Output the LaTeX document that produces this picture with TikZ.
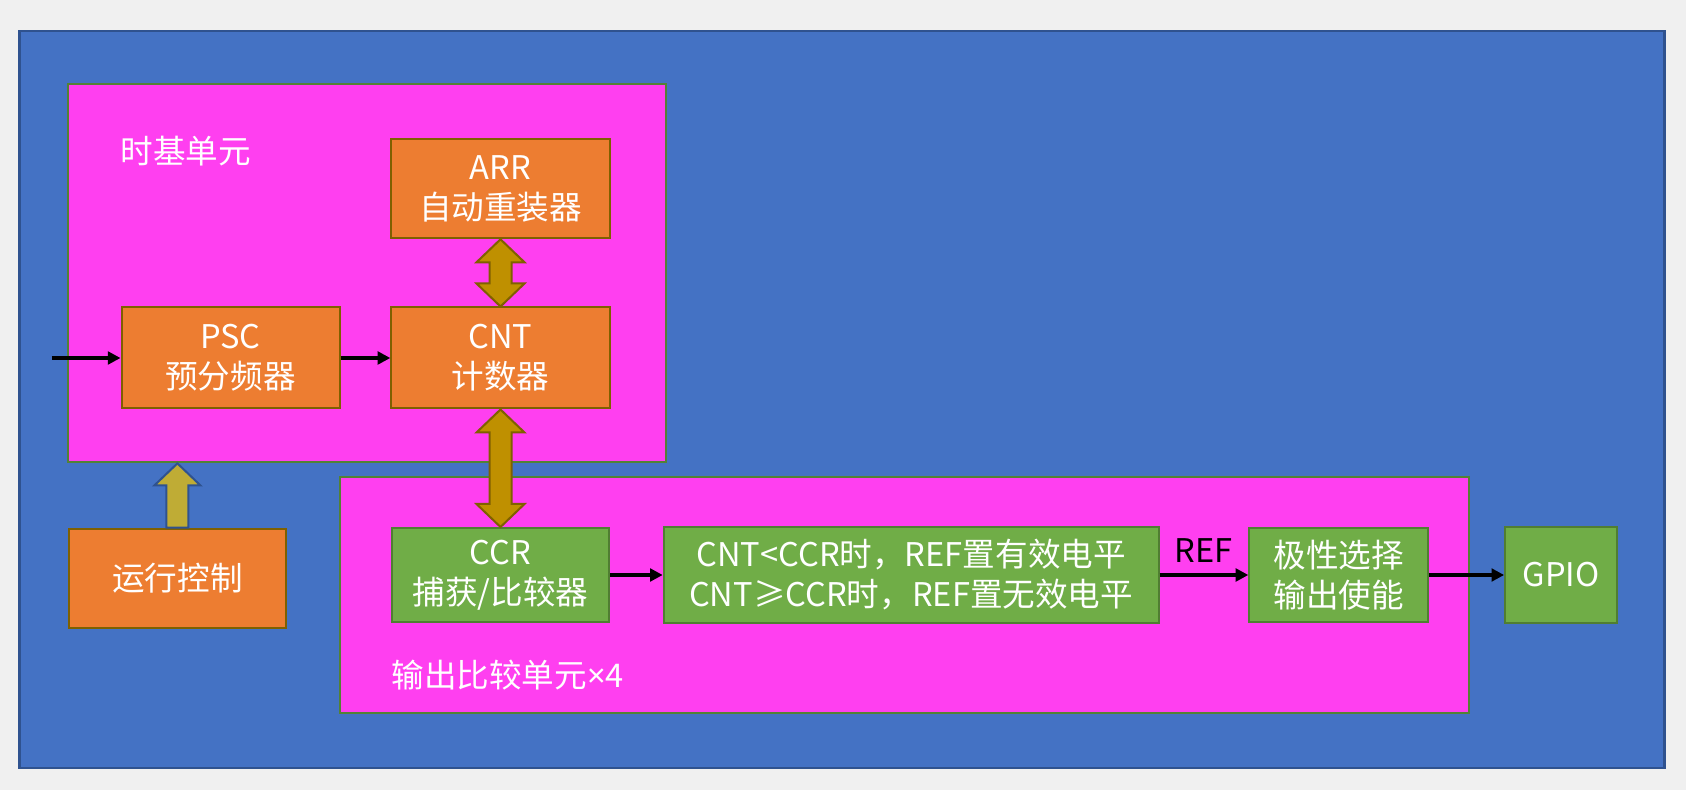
\documentclass[tikz,border=0pt]{standalone}
\usepackage{fontspec}
\setmainfont{Noto Sans CJK SC}
\newfontfamily\latinfont{Noto Sans}
\usepackage{tikz}
\usetikzlibrary{calc,arrows.meta,positioning}
\definecolor{bggray}{HTML}{F0F0F0}
\definecolor{panelblue}{HTML}{4472C4}
\definecolor{panelline}{HTML}{2F528F}
\definecolor{unitpink}{HTML}{FF3FF0}
\definecolor{unitline}{HTML}{538135}
\definecolor{regorange}{HTML}{ED7D31}
\definecolor{regline}{HTML}{7F6000}
\definecolor{outgreen}{HTML}{70AD47}
\definecolor{greenline}{HTML}{507E32}
\definecolor{busfill}{HTML}{BF9000}
\definecolor{runfill}{HTML}{BFAC35}
\tikzstyle{panel}=[draw=panelline,fill=panelblue,line width=1.2pt]
\tikzstyle{unit}=[draw=unitline,fill=unitpink,line width=1pt,inner sep=0pt]
\tikzstyle{tag}=[text=white,inner sep=0pt]
\tikzstyle{regbox}=[draw=regline,fill=regorange,line width=1pt,text=white,align=center,inner sep=0pt]
\tikzstyle{outbox}=[draw=greenline,fill=outgreen,line width=1pt,text=white,align=center,inner sep=0pt]
\tikzstyle{sig}=[line width=1.8pt,-{Triangle[length=6.3pt,width=6.3pt]}]
\tikzstyle{bus}=[draw=regline,fill=busfill,line width=1pt]
\newcommand{\busarrow}[2]{%
  \draw[bus] (#1.south) -- ++(24,23) -- ++(-13,0) -- ($(#2.north)+(11,-23)$) -- ++(13,0)
    -- (#2.north) -- ++(-24,-23) -- ++(13,0) -- ($(#1.south)+(-11,23)$) -- ++(-13,0) -- cycle;}
\newcommand{\runarrowup}[2]{%
  \draw[draw=panelline,fill=runfill,line width=1pt] ($(#1.north)+(11,0)$) -- ($(#1.north |- #2.south)+(11,22)$)
    -- ++(12,0) -- (#1.north |- #2.south) -- ++(-23,22) -- ++(12,0) -- ($(#1.north)+(-11,0)$) -- cycle;}

\begin{document}
\begin{tikzpicture}[x=0.5pt,y=-0.5pt,font=\fontsize{16.3}{20}\selectfont]
\fill[bggray] (0,0) rectangle (1686,790);
\draw[panel] (19.4,31.2) rectangle (1664.6,767.8);

% units
\node[unit,minimum width=299pt,minimum height=189.2pt] (tbu) at (366.6,273.2) {};
\node[unit,minimum width=564.5pt,minimum height=117.8pt] (ocu) at (904.3,595.2) {};
\node[tag,anchor=west] (tbulabel) at (120,151) {时基单元};
\node[tag,anchor=west] (oculabel) at (391,675) {输出比较单元{\latinfont ×}4};

% time base
\node[regbox,minimum width=109.2pt,minimum height=50.5pt] (cnt) at (500.5,358) {CNT\\计数器};
\node[regbox,minimum width=109.2pt,minimum height=49.8pt,above=33.6pt of cnt] (arr) {ARR\\自动重装器};
\node[regbox,minimum width=109pt,minimum height=50.5pt,left=24.9pt of cnt] (psc) {PSC\\预分频器};
\node[regbox,minimum width=108.7pt,minimum height=49.5pt] (run) at (177.4,578.2) {运行控制};

% output compare
\node[outbox,minimum width=108.8pt,minimum height=47pt] (ccr) at (500.5,575) {CCR\\捕获/比较器};
\node[outbox,minimum width=247.4pt,minimum height=47.6pt,right=26.2pt of ccr] (cmp) {CNT<CCR时，REF置有效电平\\CNT≥CCR时，REF置无效电平};
\node[outbox,minimum width=89.3pt,minimum height=47pt,right=44.4pt of cmp] (pol) {极性选择\\输出使能};
\node[outbox,minimum width=56pt,minimum height=47.5pt,right=37.6pt of pol] (gpio) {GPIO};

\coordinate (clkin) at (51.5,358);
\draw[sig] (clkin) -- (psc.west);
\draw[sig] (psc) -- (cnt);
\draw[sig] (ccr) -- (cmp);
\draw[sig] (cmp) -- node[above=2pt] (reflabel) {REF} (pol);
\draw[sig] (pol) -- (gpio);

\busarrow{arr}{cnt}
\busarrow{cnt}{ccr}
\runarrowup{run}{tbu}
\end{tikzpicture}
\end{document}
